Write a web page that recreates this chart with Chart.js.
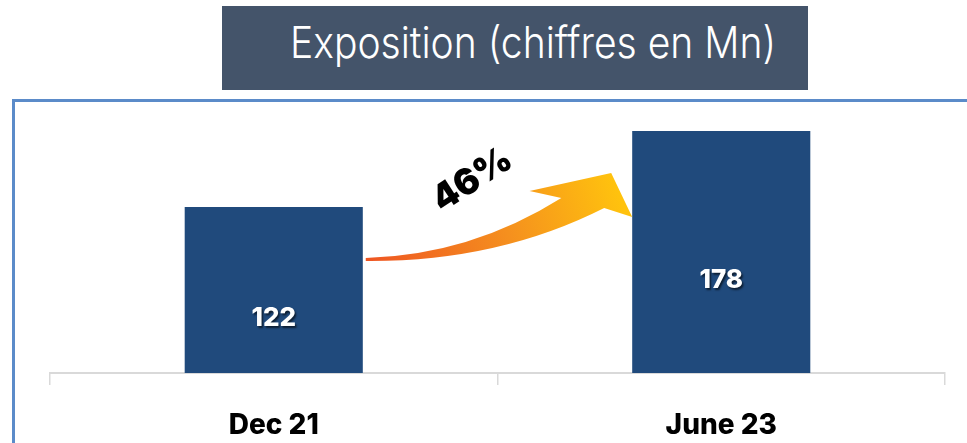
<!DOCTYPE html>
<html>
<head>
<meta charset="utf-8">
<script src="https://cdn.jsdelivr.net/npm/chart.js@4.4.1/dist/chart.umd.min.js"></script>
<style>
  html,body{margin:0;padding:0;width:967px;height:443px;overflow:hidden;background:#fff;}
  #frame{position:absolute;left:12px;top:99px;width:1000px;height:400px;border-left:3px solid #5B8BC9;border-top:3px solid #5B8BC9;box-sizing:border-box;}
  #titlebox{position:absolute;left:222px;top:6px;width:586px;height:84px;background:#44546A;}
  #title{position:absolute;left:290px;top:13px;font-family:Inter,"Open Sans",sans-serif;font-weight:300;font-size:44px;color:#fff;white-space:nowrap;transform-origin:0 0;line-height:58px;}
  #c{position:absolute;left:0;top:0;}
</style>
</head>
<body>
<div id="titlebox"></div>
<div id="title">Exposition (chiffres en Mn)</div>
<div id="frame"></div>
<canvas id="c" width="967" height="443"></canvas>
<script>
const categories = ["Dec 21", "June 23"];
const exposure = [122, 178];
const growthLabel = "46%";

// fit title width
(function(){
  const t = document.getElementById('title');
  const w = t.getBoundingClientRect().width;
  t.style.transform = 'scaleX(' + (486 / w) + ')';
})();

const valueLabels = {
  id: 'valueLabels',
  afterDatasetsDraw(chart) {
    const ctx = chart.ctx;
    const meta = chart.getDatasetMeta(0);
    ctx.save();
    ctx.font = '800 26px Inter, Roboto, sans-serif';
    ctx.fillStyle = '#fff';
    ctx.textAlign = 'center';
    ctx.textBaseline = 'middle';
    ctx.shadowColor = 'rgba(0,0,0,0.6)';
    ctx.shadowOffsetX = 1.5;
    ctx.shadowOffsetY = 2;
    ctx.shadowBlur = 2;
    meta.data.forEach((bar, i) => {
      const mid = (bar.y + bar.base) / 2;
      ctx.fillText(String(exposure[i]), bar.x, mid + 28);
    });
    ctx.restore();
  }
};

const growthArrow = {
  id: 'growthArrow',
  afterDatasetsDraw(chart) {
    const ctx = chart.ctx;
    const meta = chart.getDatasetMeta(0);
    const b0 = meta.data[0], b1 = meta.data[1];
    const R0 = b0.x + b0.width / 2;
    const L1 = b1.x - b1.width / 2;
    const gap = L1 - R0;
    const top = b1.y;
    const P = (fx, dy) => [R0 + fx * gap, top + dy];
    const tailU = P(0.011, 127), tailL = P(0.011, 130);
    const cU = P(0.40, 124), upEnd = P(0.737, 67);
    const hBack = P(0.619, 60), hTipT = P(0.922, 42), hTip = P(1.0, 86);
    const notch = P(0.896, 77), cL = P(0.50, 131);
    const g = ctx.createLinearGradient(tailU[0], tailU[1], hTipT[0], hTipT[1]);
    g.addColorStop(0, '#EE5522');
    g.addColorStop(0.55, '#F5901E');
    g.addColorStop(1, '#FFC20E');
    ctx.save();
    ctx.beginPath();
    ctx.moveTo(...tailU);
    ctx.quadraticCurveTo(...cU, ...upEnd);
    ctx.lineTo(...hBack);
    ctx.lineTo(...hTipT);
    ctx.lineTo(...hTip);
    ctx.lineTo(...notch);
    ctx.quadraticCurveTo(...cL, ...tailL);
    ctx.closePath();
    ctx.fillStyle = g;
    ctx.fill();
    // label
    const [lx, ly] = P(0.407, 49);
    ctx.translate(lx, ly);
    ctx.rotate(-33 * Math.PI / 180);
    ctx.font = '900 36px Inter, Roboto, sans-serif';
    ctx.fillStyle = '#000';
    ctx.textAlign = 'center';
    ctx.textBaseline = 'middle';
    ctx.fillText(growthLabel, 0, 0);
    ctx.restore();
  }
};

new Chart(document.getElementById('c'), {
  type: 'bar',
  data: {
    labels: categories,
    datasets: [{
      data: exposure,
      backgroundColor: '#204A7C',
      borderWidth: 0,
      barPercentage: 0.398,
      categoryPercentage: 1.0
    }]
  },
  options: {
    responsive: false,
    animation: false,
    layout: { padding: { left: 50, right: 22, top: 101, bottom: 0 } },
    plugins: { legend: { display: false }, tooltip: { enabled: false }, title: { display: false } },
    scales: {
      y: { display: false, min: 0, max: 200 },
      x: {
        afterFit(s) { s.height = 70; },
        grid: { offset: true, drawOnChartArea: false, tickLength: 12, color: '#D9D9D9', lineWidth: 1.5 },
        border: { color: '#D9D9D9', width: 2 },
        ticks: { color: '#000', padding: 24, font: { family: 'Inter, Roboto, sans-serif', weight: '800', size: 28 } }
      }
    }
  },
  plugins: [valueLabels, growthArrow]
});
</script>
</body>
</html>
